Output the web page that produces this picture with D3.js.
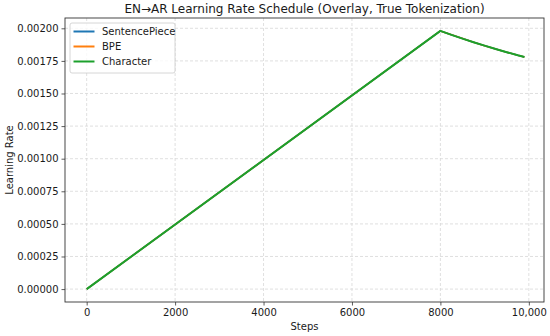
<!DOCTYPE html>
<html>
<head>
<meta charset="utf-8">
<script src="https://cdn.jsdelivr.net/npm/d3@7"></script>
<style>
  body { margin: 0; background: #fff; }
  text { font-family: "DejaVu Sans", sans-serif; fill: #1a1a1a; }
</style>
</head>
<body>
<div id="chart"></div>
<script>
// data
var series = ["SentencePiece", "BPE", "Character"];
var colors = ["#1f77b4", "#ff7f0e", "#1ca02c"];
var steps = [0, 8000, 8250, 8500, 8750, 9000, 9250, 9500, 9750, 9900];
var lrSentencePiece = [0, 0.00198, 0.001950, 0.001921, 0.001893, 0.001867, 0.001841, 0.001817, 0.001793, 0.001780];
var lrBPE = [0, 0.00198, 0.001950, 0.001921, 0.001893, 0.001867, 0.001841, 0.001817, 0.001793, 0.001780];
var lrCharacter = [0, 0.00198, 0.001950, 0.001921, 0.001893, 0.001867, 0.001841, 0.001817, 0.001793, 0.001780];
var xTicks = [0, 2000, 4000, 6000, 8000, 10000];
var xTickLabels = ["0", "2000", "4000", "6000", "8000", "10,000"];
var yTicks = [0, 0.00025, 0.0005, 0.00075, 0.001, 0.00125, 0.0015, 0.00175, 0.002];

var width = 550, height = 336;
var margin = { top: 18, right: 6, bottom: 34, left: 65 };
var w = width - margin.left - margin.right,
    h = height - margin.top - margin.bottom;

var svg = d3.select("#chart").append("svg")
    .attr("width", width)
    .attr("height", height);

var g = svg.append("g")
    .attr("transform", `translate(${margin.left}, ${margin.top})`);

// matplotlib style 5% padding
var xMax = d3.max(steps), yMax = d3.max(lrCharacter);
var x = d3.scaleLinear()
    .domain([-0.05 * xMax * 0.99, xMax * 1.05 * 0.995])
    .range([0, w]);
var y = d3.scaleLinear()
    .domain([-0.05 * yMax, yMax * 1.05])
    .range([h, 0]);

// grid
g.append("g").selectAll("line").data(xTicks).enter().append("line")
    .attr("x1", d => x(d)).attr("x2", d => x(d))
    .attr("y1", 0).attr("y2", h)
    .attr("stroke", "#d8d8d8").attr("stroke-dasharray", "3,2").attr("stroke-width", 0.8);
g.append("g").selectAll("line").data(yTicks).enter().append("line")
    .attr("y1", d => y(d)).attr("y2", d => y(d))
    .attr("x1", 0).attr("x2", w)
    .attr("stroke", "#d8d8d8").attr("stroke-dasharray", "3,2").attr("stroke-width", 0.8);

// lines (overlaid, last one on top)
var allSeries = [lrSentencePiece, lrBPE, lrCharacter];
var line = d3.line()
    .x((d, i) => x(steps[i]))
    .y(d => y(d));
allSeries.forEach(function (vals, i) {
    g.append("path")
        .datum(vals)
        .attr("fill", "none")
        .attr("stroke", colors[i])
        .attr("stroke-width", i == 2 ? 2 : 1.6)
        .attr("stroke-linejoin", "round")
        .attr("d", line);
});

// axes
var xAxis = g.append("g")
    .attr("transform", "translate(0," + h + ")")
    .call(d3.axisBottom(x).tickValues(xTicks)
        .tickFormat((d, i) => xTickLabels[i]).tickSizeOuter(0).tickSize(3.5).tickPadding(3));
var yAxis = g.append("g")
    .call(d3.axisLeft(y).tickValues(yTicks)
        .tickFormat(d3.format(".5f")).tickSizeOuter(0).tickSize(3.5).tickPadding(3));
[xAxis, yAxis].forEach(function (a) {
    a.select(".domain").remove();
    a.selectAll("text").attr("font-size", 10).attr("font-family", "DejaVu Sans").attr("fill", "#1a1a1a");
    a.selectAll(".tick line").attr("stroke", "#333").attr("stroke-width", 0.8);
});

// frame
g.append("rect")
    .attr("width", w).attr("height", h)
    .attr("fill", "none").attr("stroke", "#333").attr("stroke-width", 0.9);

// labels
svg.append("text")
    .attr("x", margin.left + w / 2).attr("y", 13)
    .attr("text-anchor", "middle").attr("font-size", 12)
    .text("EN\u2192AR Learning Rate Schedule (Overlay, True Tokenization)");
svg.append("text")
    .attr("x", margin.left + w / 2).attr("y", 330)
    .attr("text-anchor", "middle").attr("font-size", 10)
    .text("Steps");
svg.append("text")
    .attr("transform", "translate(13," + (margin.top + h / 2) + ") rotate(-90)")
    .attr("text-anchor", "middle").attr("font-size", 10)
    .text("Learning Rate");

// legend
var legend = g.append("g").attr("transform", "translate(5,5)");
legend.append("rect")
    .attr("width", 105).attr("height", 50).attr("rx", 2)
    .attr("fill", "#fff").attr("fill-opacity", 0.8)
    .attr("stroke", "#ccc").attr("stroke-width", 0.8);
series.forEach(function (s, i) {
    var yy = 8.5 + i * 15;
    legend.append("line")
        .attr("x1", 3.5).attr("x2", 24.5).attr("y1", yy).attr("y2", yy)
        .attr("stroke", colors[i]).attr("stroke-width", 2);
    legend.append("text")
        .attr("x", 32).attr("y", yy + 3.6)
        .attr("font-size", 10)
        .text(s);
});
</script>
</body>
</html>
